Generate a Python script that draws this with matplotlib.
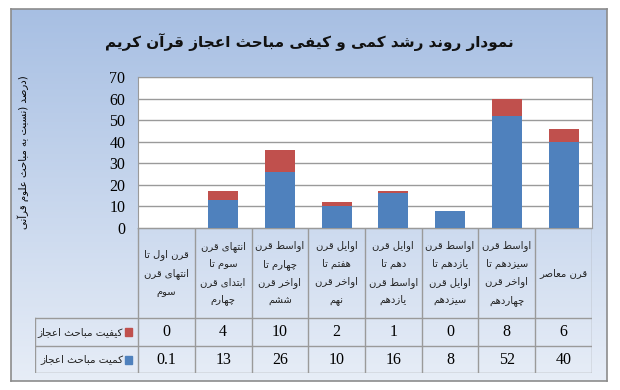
import numpy as np
import matplotlib
matplotlib.use('Agg')
import matplotlib.pyplot as plt
from matplotlib.patches import Rectangle

# ============= data =============
periods = [
    ['قرن اول تا', 'انتهای قرن', 'سوم'],
    ['انتهای قرن', 'سوم تا', 'ابتدای قرن', 'چهارم'],
    ['اواسط قرن', 'چهارم تا', 'اواخر قرن', 'ششم'],
    ['اوایل قرن', 'هفتم تا', 'اواخر قرن', 'نهم'],
    ['اوایل قرن', 'دهم تا', 'اواسط قرن', 'یازدهم'],
    ['اواسط قرن', 'یازدهم تا', 'اوایل قرن', 'سیزدهم'],
    ['اواسط قرن', 'سیزدهم تا', 'اواخر قرن', 'چهاردهم'],
    ['قرن معاصر'],
]
quantity = [0.1, 13, 26, 10, 16, 8, 52, 40]     # کمیت
quality = [0, 4, 10, 2, 1, 0, 8, 6]             # کیفیت
quantity_label = 'کمیت مباحث اعجاز'
quality_label = 'کیفیت مباحث اعجاز'
title = 'نمودار روند رشد کمی و کیفی مباحث اعجاز قرآن کریم'
ylabel = '(درصد (نسبت به مباحث علوم قرآنی'
yticks = [0, 10, 20, 30, 40, 50, 60, 70]

BLUE = '#4f81bd'
RED = '#c0504d'
GRID = '#9a9a9a'

# ============= minimal persian shaping (no reshaper available) =============
# (isolated, final, initial, medial) ; right-joining letters have 2 forms only
FORMS = {
    'ا': ('\uFE8D', '\uFE8E'), 'آ': ('\uFE81', '\uFE82'),
    'ب': ('\uFE8F', '\uFE90', '\uFE91', '\uFE92'),
    'پ': ('\uFB56', '\uFB57', '\uFB58', '\uFB59'),
    'ت': ('\uFE95', '\uFE96', '\uFE97', '\uFE98'),
    'ث': ('\uFE99', '\uFE9A', '\uFE9B', '\uFE9C'),
    'ج': ('\uFE9D', '\uFE9E', '\uFE9F', '\uFEA0'),
    'چ': ('\uFB7A', '\uFB7B', '\uFB7C', '\uFB7D'),
    'ح': ('\uFEA1', '\uFEA2', '\uFEA3', '\uFEA4'),
    'خ': ('\uFEA5', '\uFEA6', '\uFEA7', '\uFEA8'),
    'د': ('\uFEA9', '\uFEAA'), 'ذ': ('\uFEAB', '\uFEAC'),
    'ر': ('\uFEAD', '\uFEAE'), 'ز': ('\uFEAF', '\uFEB0'),
    'ژ': ('\uFB8A', '\uFB8B'),
    'س': ('\uFEB1', '\uFEB2', '\uFEB3', '\uFEB4'),
    'ش': ('\uFEB5', '\uFEB6', '\uFEB7', '\uFEB8'),
    'ص': ('\uFEB9', '\uFEBA', '\uFEBB', '\uFEBC'),
    'ض': ('\uFEBD', '\uFEBE', '\uFEBF', '\uFEC0'),
    'ط': ('\uFEC1', '\uFEC2', '\uFEC3', '\uFEC4'),
    'ظ': ('\uFEC5', '\uFEC6', '\uFEC7', '\uFEC8'),
    'ع': ('\uFEC9', '\uFECA', '\uFECB', '\uFECC'),
    'غ': ('\uFECD', '\uFECE', '\uFECF', '\uFED0'),
    'ف': ('\uFED1', '\uFED2', '\uFED3', '\uFED4'),
    'ق': ('\uFED5', '\uFED6', '\uFED7', '\uFED8'),
    'ک': ('\uFB8E', '\uFB8F', '\uFB90', '\uFB91'),
    'گ': ('\uFB92', '\uFB93', '\uFB94', '\uFB95'),
    'ل': ('\uFEDD', '\uFEDE', '\uFEDF', '\uFEE0'),
    'م': ('\uFEE1', '\uFEE2', '\uFEE3', '\uFEE4'),
    'ن': ('\uFEE5', '\uFEE6', '\uFEE7', '\uFEE8'),
    'ه': ('\uFEE9', '\uFEEA', '\uFEEB', '\uFEEC'),
    'و': ('\uFEED', '\uFEEE'),
    'ی': ('\uFBFC', '\uFBFD', '\uFBFE', '\uFBFF'),
    'ئ': ('\uFE89', '\uFE8A', '\uFE8B', '\uFE8C'),
}
MIRROR = {'(': ')', ')': '('}


def fa(text):
    out = []
    for i, c in enumerate(text):
        f = FORMS.get(c)
        if f is None:
            out.append(MIRROR.get(c, c))
            continue
        prev = text[i - 1] if i > 0 else ''
        nxt = text[i + 1] if i + 1 < len(text) else ''
        jp = prev in FORMS and len(FORMS[prev]) == 4
        jn = len(f) == 4 and nxt in FORMS
        if jp and jn:
            out.append(f[3])
        elif jp:
            out.append(f[1])
        elif jn:
            out.append(f[2])
        else:
            out.append(f[0])
    return ''.join(out)[::-1]


plt.rcParams['font.family'] = ['Liberation Serif', 'DejaVu Sans']

W, H = 620, 390
fig = plt.figure(figsize=(W / 100, H / 100), dpi=100)


def px(x0, y0, x1, y1):
    return [x0 / W, 1 - y1 / H, (x1 - x0) / W, (y1 - y0) / H]


# background frame with vertical gradient
bg = fig.add_axes(px(11, 9, 607, 381), zorder=-5)
grad = np.linspace(0, 1, 256)[:, None]
c_top = np.array([0.655, 0.749, 0.890])
c_bot = np.array([0.905, 0.930, 0.968])
img = c_top[None, None, :] * (1 - grad[..., None]) + c_bot[None, None, :] * grad[..., None]
bg.imshow(img, aspect='auto', extent=[0, 1, 0, 1])
bg.set_xticks([])
bg.set_yticks([])
for s in bg.spines.values():
    s.set_color('#8c8c8c')
    s.set_linewidth(1.2)

fig.text(309 / W, 1 - 42 / H, fa(title), ha='center', va='center',
         fontsize=11, fontweight='bold', family=['DejaVu Sans'], color='#111111')

# ============= bars =============
x = np.arange(len(quantity))
ax = fig.add_axes(px(138, 77, 592, 228))
ax.set_facecolor('white')
ax.bar(x, quantity, width=0.53, color=BLUE, zorder=3)
ax.bar(x, quality, width=0.53, bottom=quantity, color=RED, zorder=3)
ax.set_xlim(-0.5, len(x) - 0.5)
ax.set_ylim(0, 70)
ax.set_yticks(yticks)
ax.set_yticklabels([str(v) for v in yticks], fontsize=11.5)
ax.tick_params(axis='y', length=0, pad=9)
ax.set_xticks([])
ax.grid(axis='y', color=GRID, linewidth=1, zorder=0)
for s in ax.spines.values():
    s.set_color(GRID)
ax.text(-(138 - 23) / 454, 0.5, fa(ylabel), transform=ax.transAxes, rotation=90,
        ha='center', va='center', fontsize=7.3, family=['DejaVu Sans'])

# ============= data table =============
cw = (592 - 138) / len(x)
lw = (138 - 35) / cw
tab = fig.add_axes(px(35, 228, 592, 373))
tab.set_xlim(-0.5 - lw, len(x) - 0.5)
tab.set_ylim(145, 0)
tab.axis('off')
tab.patch.set_alpha(0)
lc = '#9a9a9a'
hy, r1, r2 = 90, 118, 145
# horizontal lines
tab.plot([-0.5, len(x) - 0.5], [0, 0], color=lc, lw=1)
for yy in (hy, r1, r2):
    tab.plot([-0.5 - lw, len(x) - 0.5], [yy, yy], color=lc, lw=1)
# vertical lines
for i in range(len(x) + 1):
    tab.plot([i - 0.5, i - 0.5], [0, r2], color=lc, lw=1)
tab.plot([-0.5 - lw, -0.5 - lw], [hy, r2], color=lc, lw=1)

for i, lines in enumerate(periods):
    tab.text(i, hy / 2, '\n'.join(fa(l) for l in lines), ha='center', va='center',
             fontsize=7.2, linespacing=1.95, family=['DejaVu Sans'], color='#222222')
    tab.text(i, (hy + r1) / 2, f'{quality[i]:g}', ha='center', va='center', fontsize=11.5)
    tab.text(i, (r1 + r2) / 2, f'{quantity[i]:g}', ha='center', va='center', fontsize=11.5)

key_x = -0.5 - 0.17
for (y0, y1), lab, col in (((hy, r1), quality_label, RED), ((r1, r2), quantity_label, BLUE)):
    ym = (y0 + y1) / 2
    tab.add_patch(Rectangle((key_x - 0.06, ym - 4), 0.13, 8, color=col))
    tab.text(key_x - 0.09, ym, fa(lab), ha='right', va='center', fontsize=7.5,
             family=['DejaVu Sans'], color='#222222')

fig.savefig('out.png', dpi=100)
